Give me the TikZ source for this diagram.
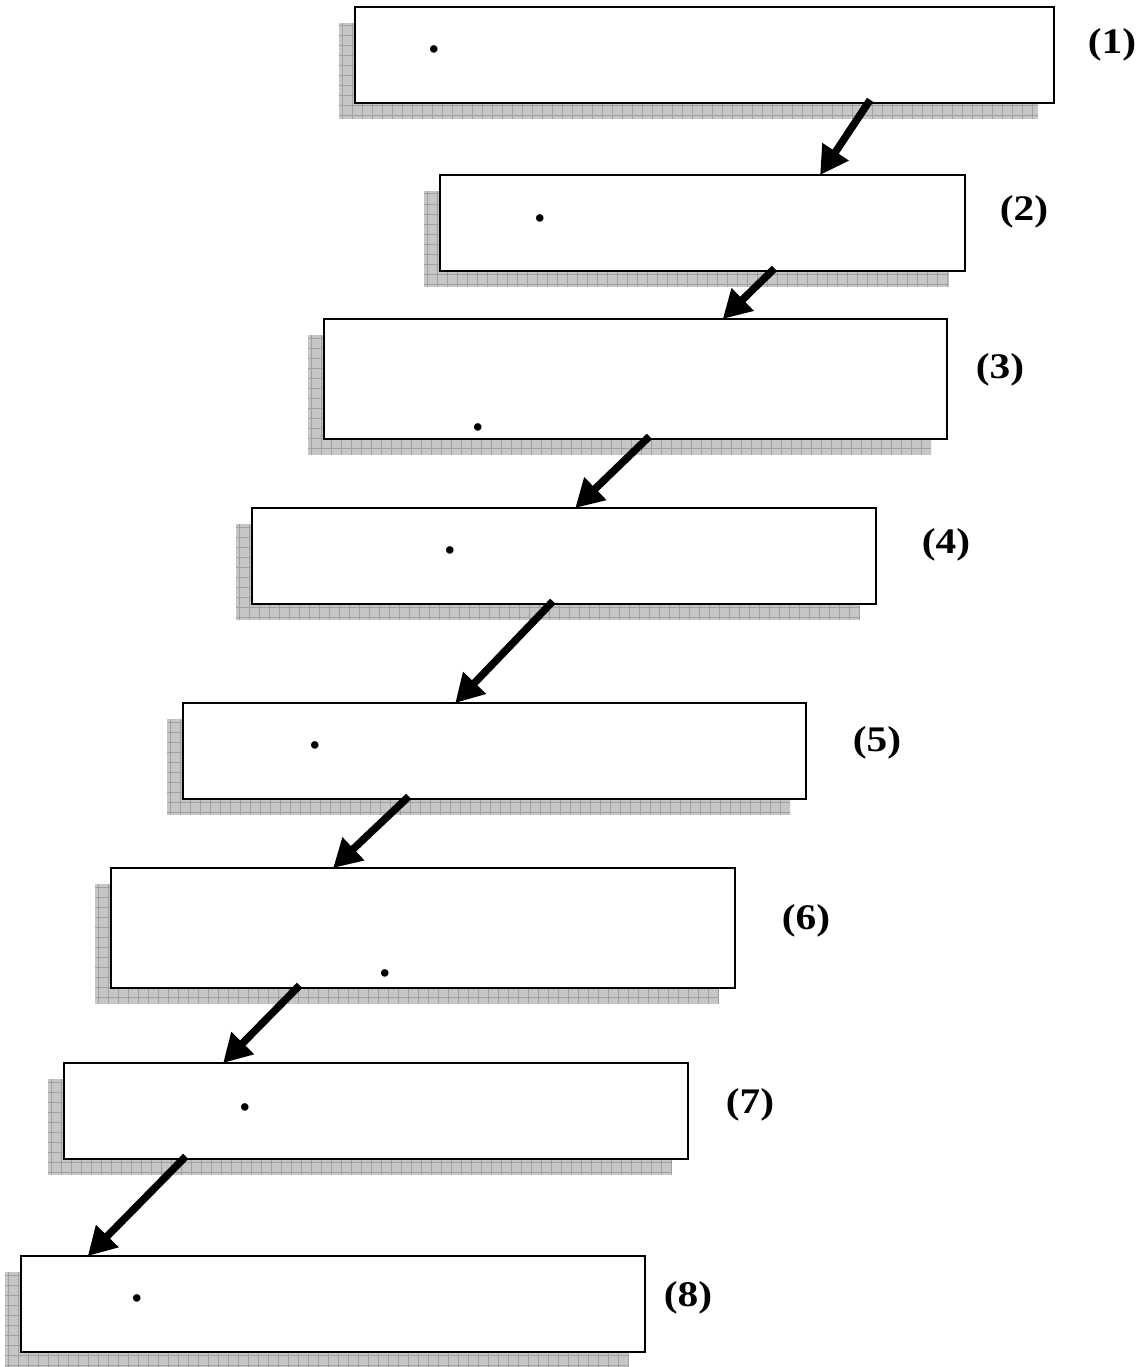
\documentclass[tikz,border=0pt]{standalone}
\usepackage{fontspec}
\setmainfont{Liberation Serif}[BoldFont={Liberation Serif Bold}]
\usetikzlibrary{arrows.meta,calc}
\definecolor{shadowgray}{HTML}{C6C6C6}
\definecolor{gridgray}{HTML}{A0A0A0}
\tikzset{
  box/.style={draw=black, line width=2.8pt, fill=white, anchor=north west, inner sep=0pt, outer sep=0pt},
  lbl/.style={font=\fontsize{36}{38}\selectfont\bfseries, inner sep=0pt},
  dotmark/.style={font=\fontsize{46}{46}\selectfont\bfseries, inner sep=0pt},
  arr/.style={line width=7.5pt, line cap=rect, -{Triangle[length=28pt,width=30pt]}},
}
\newcommand\mybox[5]{%
  \fill[shadowgray] (#2-16,#3+16) rectangle (#4-16,#5+16);
  \begin{scope}
    \clip (#2-16,#3+16) rectangle (#4-16,#5+16);
    \pgfmathtruncatemacro\nx{(#4-#2)/10}
    \pgfmathtruncatemacro\ny{(#5-#3)/10}
    \foreach \k in {0,...,\nx} {\draw[gridgray, line width=1pt] (#2-16+\k*10+3,#3+16) -- (#2-16+\k*10+3,#5+16);}
    \foreach \k in {0,...,\ny} {\draw[gridgray, line width=1pt] (#2-16,#3+16+\k*10+3) -- (#4-16,#3+16+\k*10+3);}
  \end{scope}
  \node[box, minimum width=#4-#2, minimum height=#5-#3] (#1) at (#2,#3) {};
}
\begin{document}
\begin{tikzpicture}[x=1pt,y=-1pt]
\useasboundingbox (0,0) rectangle (1145,1367);
\mybox{b1}{355}{7}{1054}{103}
\mybox{b2}{440}{175}{965}{271}
\mybox{b3}{324}{319}{947}{439}
\mybox{b4}{252}{508}{876}{604}
\mybox{b5}{183}{703}{806}{799}
\mybox{b6}{111}{868}{735}{988}
\mybox{b7}{64}{1063}{688}{1159}
\mybox{b8}{21}{1256}{645}{1352}

\node[dotmark] (d1) at (434,49) {.};
\node[dotmark] (d2) at (540,218) {.};
\node[dotmark] (d3) at (478,427) {.};
\node[dotmark] (d4) at (450,550) {.};
\node[dotmark] (d5) at (315,745) {.};
\node[dotmark] (d6) at (385,973) {.};
\node[dotmark] (d7) at (245,1107) {.};
\node[dotmark] (d8) at (137,1298) {.};

\node[lbl] (l1) at (1112,45) {\scalebox{1.15}[1]{(1)}};
\node[lbl] (l2) at (1024,212) {\scalebox{1.15}[1]{(2)}};
\node[lbl] (l3) at (1000,370) {\scalebox{1.15}[1]{(3)}};
\node[lbl] (l4) at (946,545) {\scalebox{1.15}[1]{(4)}};
\node[lbl] (l5) at (877,743) {\scalebox{1.15}[1]{(5)}};
\node[lbl] (l6) at (806,921) {\scalebox{1.15}[1]{(6)}};
\node[lbl] (l7) at (750,1105) {\scalebox{1.15}[1]{(7)}};
\node[lbl] (l8) at (688,1298) {\scalebox{1.15}[1]{(8)}};

\coordinate (s1) at ($(b1.south west)!0.734!(b1.south east)$);
\coordinate (e1) at ($(b2.north west)!0.724!(b2.north east)$);
\coordinate (s2) at ($(b2.south west)!0.632!(b2.south east)$);
\coordinate (e2) at ($(b3.north west)!0.640!(b3.north east)$);
\coordinate (s3) at ($(b3.south west)!0.518!(b3.south east)$);
\coordinate (e3) at ($(b4.north west)!0.518!(b4.north east)$);
\coordinate (s4) at ($(b4.south west)!0.478!(b4.south east)$);
\coordinate (e4) at ($(b5.north west)!0.437!(b5.north east)$);
\coordinate (s5) at ($(b5.south west)!0.358!(b5.south east)$);
\coordinate (e5) at ($(b6.north west)!0.356!(b6.north east)$);
\coordinate (s6) at ($(b6.south west)!0.298!(b6.south east)$);
\coordinate (e6) at ($(b7.north west)!0.255!(b7.north east)$);
\coordinate (s7) at ($(b7.south west)!0.191!(b7.south east)$);
\coordinate (e7) at ($(b8.north west)!0.107!(b8.north east)$);
\foreach \i in {1,...,7} {\draw[arr] (s\i) -- (e\i);}
\end{tikzpicture}
\end{document}
